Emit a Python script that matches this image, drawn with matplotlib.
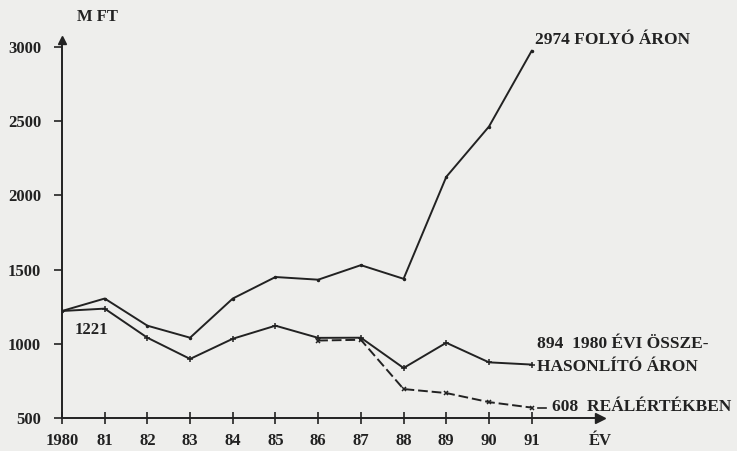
import matplotlib
matplotlib.use("Agg")
import matplotlib.pyplot as plt

years = [1980, 1981, 1982, 1983, 1984, 1985, 1986, 1987, 1988, 1989, 1990, 1991]
folyo_aron = [1221, 1305, 1122, 1041, 1305, 1450, 1432, 1530, 1438, 2125, 2464, 2974]
osszehasonlito = [1221, 1237, 1041, 898, 1034, 1122, 1040, 1041, 837, 1007, 875, 860]
real_years = [1986, 1987, 1988, 1989, 1990, 1991]
realertek = [1022, 1027, 695, 668, 607, 570]

xtick_labels = ["1980", "81", "82", "83", "84", "85", "86", "87", "88", "89", "90", "91"]
yticks = [500, 1000, 1500, 2000, 2500, 3000]

plt.rcParams['font.family'] = ['Liberation Serif', 'DejaVu Serif']
plt.rcParams['font.weight'] = 'bold'

bg = '#eeeeec'
ink = '#222222'
fig = plt.figure(figsize=(7.37, 4.51), dpi=100, facecolor=bg)
ax = fig.add_axes([0.0841, 0.0732, 0.730, 0.839])
ax.set_facecolor(bg)

ax.plot(years, folyo_aron, color=ink, lw=1.4, marker='.', ms=3)
ax.plot(years, osszehasonlito, color=ink, lw=1.4, marker='+', ms=5, mew=1.1)
ax.plot(real_years, realertek, color=ink, lw=1.4, ls=(0, (5, 2)), marker='x', ms=3.5, mew=1.1)

ax.set_xlim(1980, 1992.6)
ax.set_ylim(500, 3050)
ax.set_xticks(years)
ax.set_xticklabels(xtick_labels, fontsize=12, fontweight='bold', color=ink)
ax.set_yticks(yticks)
ax.set_yticklabels([str(v) for v in yticks], fontsize=12, fontweight='bold', color=ink)
ax.tick_params(axis='x', direction='inout', length=8, width=1.2, color=ink, pad=7)
ax.tick_params(axis='y', direction='out', length=6, width=1.2, color=ink, pad=9)

for s in ['top', 'right']:
    ax.spines[s].set_visible(False)
for s in ['left', 'bottom']:
    ax.spines[s].set_color(ink)
    ax.spines[s].set_linewidth(1.4)

ax.plot(1, 0, marker='>', color=ink, ms=7, transform=ax.transAxes, clip_on=False)
ax.plot(0, 1, marker='^', color=ink, ms=6, transform=ax.transAxes, clip_on=False)

ax.text(1980.3, 1095, "1221", fontsize=12, fontweight='bold', color=ink, va='center')
ax.text(1980.35, 3200, "M FT", fontsize=12, fontweight='bold',
        color=ink, ha='left', va='center', clip_on=False)
ax.text(1992.6, 500 - 23 / 0.1475, "ÉV", fontsize=12, fontweight='bold',
        color=ink, ha='center', va='center', clip_on=False)

ax.text(1991.07, 3050, "2974 FOLYÓ ÁRON", fontsize=12.5, fontweight='bold', color=ink,
        ha='left', va='center', clip_on=False)
ax.text(1991.12, 1000, "894  1980 ÉVI ÖSSZE-", fontsize=12.5, fontweight='bold', color=ink,
        ha='left', va='center', clip_on=False)
ax.text(1991.12, 844, "HASONLÍTÓ ÁRON", fontsize=12.5, fontweight='bold', color=ink,
        ha='left', va='center', clip_on=False)
ax.text(1991.47, 573, "608  REÁLÉRTÉKBEN", fontsize=12.5, fontweight='bold', color=ink,
        ha='left', va='center', clip_on=False)
ax.plot([1991.15, 1991.33], [565, 565], color=ink, lw=1.2, clip_on=False)

fig.savefig("out.png", dpi=100, facecolor=bg)
